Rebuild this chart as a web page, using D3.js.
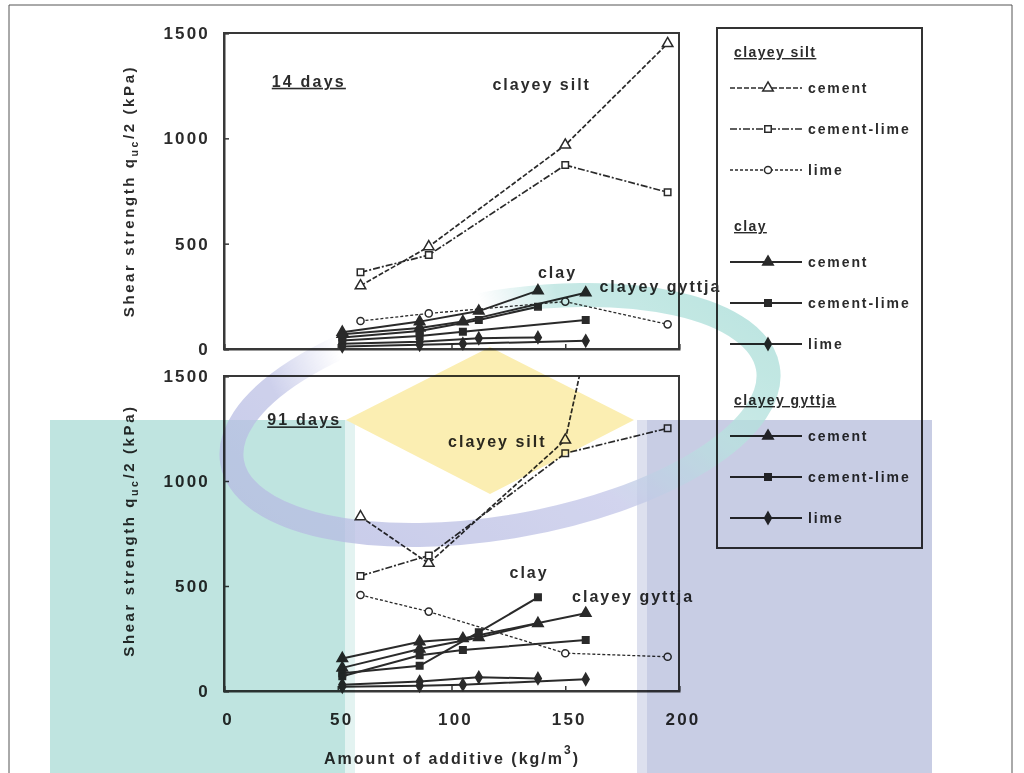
<!DOCTYPE html>
<html>
<head>
<meta charset="utf-8">
<script src="https://cdn.jsdelivr.net/npm/d3@7/dist/d3.min.js"></script>
<style>
  html, body { margin: 0; padding: 0; background: #fff; }
  svg { display: block; }
  text { font-family: "Liberation Sans", Arial, sans-serif; font-weight: bold; fill: #2b2b2b; }
</style>
</head>
<body>
<svg id="chart" width="1024" height="773"></svg>
<script>
// Amount of additive (kg/m3) used for each soil
const amountSilt = [60, 90, 150, 195];
const amountClay = [52, 86, 112, 138];
const amountGyttja = [52, 86, 105, 159];

// Shear strength qu/2 (kPa) after 14 days
const silt14Cement = [300, 486, 968, 1450];
const silt14CementLime = [364, 446, 873, 744];
const silt14Lime = [133, 169, 225, 117];
const clay14Cement = [80, 130, 180, 277];
const clay14CementLime = [55, 85, 138, 201];
const clay14Lime = [25, 35, 51, 55];
const gyttja14Cement = [70, 100, 130, 267];
const gyttja14CementLime = [40, 62, 82, 138];
const gyttja14Lime = [12, 20, 25, 39];

// Shear strength qu/2 (kPa) after 91 days
const silt91Cement = [830, 608, 1195, 3400];
const silt91CementLime = [548, 645, 1132, 1251];
const silt91Lime = [457, 378, 180, 163];
const clay91Cement = [110, 200, 255, 322];
const clay91CementLime = [85, 120, 280, 446];
const clay91Lime = [30, 45, 65, 60];
const gyttja91Cement = [155, 235, 250, 370];
const gyttja91CementLime = [70, 170, 195, 243];
const gyttja91Lime = [20, 25, 30, 56];

const xTicks = [0, 50, 100, 150, 200];
const yTicks = [0, 500, 1000, 1500];
const soilNames = ["clayey silt", "clay", "clayey gyttja"];
const binderNames = ["cement", "cement-lime", "lime"];

const svg = d3.select("#chart");
const defs = svg.append("defs");
const ink = "#2a2a2a";

// page frame
svg.append("path").attr("d", "M9,780 V5 H1012 V780")
  .attr("fill", "none").attr("stroke", "#555").attr("stroke-width", 1);

const x = d3.scaleLinear().domain([0, 200]).range([224, 679]);

const panels = [
  { id: "p14", top: 33, bottom: 349, label: "14 days", titleShift: 0,
    labelAt: [21, 1245],
    soilLabels: [["clayey silt", 118, 1230], ["clay", 138, 337], ["clayey gyttja", 165, 270]],
    series: {
      silt: [silt14Cement, silt14CementLime, silt14Lime],
      clay: [clay14Cement, clay14CementLime, clay14Lime],
      gyttja: [gyttja14Cement, gyttja14CementLime, gyttja14Lime] } },
  { id: "p91", top: 376, bottom: 691, label: "91 days", titleShift: -3,
    labelAt: [19, 1265],
    soilLabels: [["clayey silt", 98.5, 1162], ["clay", 125.5, 538], ["clayey gyttja", 153, 424]],
    series: {
      silt: [silt91Cement, silt91CementLime, silt91Lime],
      clay: [clay91Cement, clay91CementLime, clay91Lime],
      gyttja: [gyttja91Cement, gyttja91CementLime, gyttja91Lime] } }
];

// styles per binder
const siltDash = ["5,2", "7,2,2,2", "3,2"];
const siltWidth = [1.7, 1.7, 1.3];
const symbolTypes = [d3.symbolTriangle, d3.symbolSquare, d3.symbolDiamond];
const siltSymbols = [d3.symbolTriangle, d3.symbolSquare, d3.symbolCircle];
const symbolSizes = [48, 42, 40];

function drawMarker(g, type, size, open, px, py) {
  g.append("path")
    .attr("d", d3.symbol().type(type).size(size)())
    .attr("transform", `translate(${px},${py})`)
    .attr("fill", open ? "#fff" : ink)
    .attr("stroke", ink).attr("stroke-width", 1.5);
}

panels.forEach(p => {
  const y = d3.scaleLinear().domain([0, 1500]).range([p.bottom, p.top]);
  const g = svg.append("g");

  defs.append("clipPath").attr("id", "clip-" + p.id)
    .append("rect").attr("x", x(0)).attr("y", y(1500))
    .attr("width", x(200) - x(0)).attr("height", y(0) - y(1500));

  // frame
  g.append("rect").attr("x", x(0)).attr("y", y(1500))
    .attr("width", x(200) - x(0)).attr("height", y(0) - y(1500))
    .attr("fill", "none").attr("stroke", "#383838").attr("stroke-width", 2);

  // y axis (inward ticks)
  const ya = g.append("g").attr("transform", `translate(${x(0)},0)`)
    .call(d3.axisLeft(y).tickValues(yTicks).tickSize(-5).tickPadding(14).tickFormat(d3.format("d")));
  ya.select(".domain").attr("stroke", "#383838").attr("stroke-width", 2);
  ya.selectAll(".tick line").attr("stroke", "#383838").attr("stroke-width", 1.5);
  ya.selectAll(".tick text").attr("font-size", 17).attr("letter-spacing", 2.2)
    .attr("font-family", "Liberation Sans, Arial, sans-serif").attr("font-weight", "bold")
    .attr("fill", "#222");

  // x axis ticks (inward)
  const xa = g.append("g").attr("transform", `translate(0,${y(0)})`)
    .call(d3.axisBottom(x).tickValues(xTicks).tickSize(-5).tickFormat(""));
  xa.select(".domain").attr("stroke", "#383838").attr("stroke-width", 2);
  xa.selectAll(".tick line").attr("stroke", "#383838").attr("stroke-width", 1.5);

  // y axis title
  const ty = g.append("text")
    .attr("transform", `translate(134,${(p.top + p.bottom) / 2 + p.titleShift}) rotate(-90)`)
    .attr("text-anchor", "middle").attr("font-size", 15).attr("letter-spacing", 2.6);
  ty.append("tspan").text("Shear strength q");
  ty.append("tspan").attr("font-size", 10.5).attr("dy", 4).text("uc");
  ty.append("tspan").attr("dy", -4).text("/2 (kPa)");

  const plot = g.append("g").attr("clip-path", `url(#clip-${p.id})`);
  const marks = g.append("g");
  const line = d3.line().x(d => x(d[0])).y(d => y(d[1]));

  // clayey silt: dashed with open markers
  p.series.silt.forEach((vals, i) => {
    const pts = amountSilt.map((a, k) => [a, vals[k]]);
    plot.append("path").attr("d", line(pts)).attr("fill", "none")
      .attr("stroke", ink).attr("stroke-width", siltWidth[i]).attr("stroke-dasharray", siltDash[i]);
    pts.filter(d => d[1] <= 1500).forEach(d =>
      drawMarker(marks, siltSymbols[i], symbolSizes[i], true, x(d[0]), y(d[1])));
  });

  // clay and clayey gyttja: solid with filled markers
  [[p.series.clay, amountClay], [p.series.gyttja, amountGyttja]].forEach(([set, amt]) => {
    set.forEach((vals, i) => {
      const pts = amt.map((a, k) => [a, vals[k]]);
      plot.append("path").attr("d", line(pts)).attr("fill", "none")
        .attr("stroke", ink).attr("stroke-width", 2);
      pts.forEach(d => drawMarker(marks, symbolTypes[i], symbolSizes[i], false, x(d[0]), y(d[1])));
    });
  });

  // panel label (underlined)
  g.append("text").attr("x", x(p.labelAt[0])).attr("y", y(p.labelAt[1]))
    .attr("font-size", 16).attr("letter-spacing", 2.2).attr("text-decoration", "underline")
    .text(p.label);

  // soil labels
  p.soilLabels.forEach(([t, a, v]) => {
    g.append("text").attr("x", x(a)).attr("y", y(v))
      .attr("font-size", 16).attr("letter-spacing", 2).text(t);
  });
});

// x axis labels and title
const yb = 691;
svg.append("g").selectAll("text").data(xTicks).join("text")
  .attr("x", d => x(d) + 4).attr("y", yb + 34).attr("text-anchor", "middle")
  .attr("font-size", 17).attr("letter-spacing", 2.2).attr("fill", "#222")
  .text(d => d);
const xt = svg.append("text").attr("x", 452).attr("y", 764).attr("text-anchor", "middle")
  .attr("font-size", 16).attr("letter-spacing", 2);
xt.append("tspan").text("Amount of additive (kg/m");
xt.append("tspan").attr("font-size", 12).attr("dy", -10).text("3");
xt.append("tspan").attr("dy", 10).text(")");

// legend
const lg = svg.append("g");
lg.append("rect").attr("x", 717).attr("y", 28).attr("width", 205).attr("height", 520)
  .attr("fill", "none").attr("stroke", "#333").attr("stroke-width", 2);
const groupTop = [52, 226, 400];
const itemOffsets = [36, 77, 118];
soilNames.forEach((s, si) => {
  lg.append("text").attr("x", 734).attr("y", groupTop[si] + 5)
    .attr("font-size", 14).attr("letter-spacing", 1.4).attr("text-decoration", "underline").text(s);
  binderNames.forEach((b, bi) => {
    const cy = groupTop[si] + itemOffsets[bi];
    lg.append("line").attr("x1", 730).attr("x2", 802).attr("y1", cy).attr("y2", cy)
      .attr("stroke", ink).attr("stroke-width", si === 0 ? siltWidth[bi] : 2)
      .attr("stroke-dasharray", si === 0 ? siltDash[bi] : null);
    drawMarker(lg, si === 0 ? siltSymbols[bi] : symbolTypes[bi], symbolSizes[bi], si === 0, 768, cy);
    lg.append("text").attr("x", 808).attr("y", cy + 5)
      .attr("font-size", 14).attr("letter-spacing", 1.9).text(b);
  });
});

// background emblem laid over the figure
const wm = svg.append("g").style("mix-blend-mode", "multiply");
const grad = defs.append("linearGradient").attr("id", "ringGrad")
  .attr("x1", "0").attr("y1", "0.7").attr("x2", "1").attr("y2", "0.3");
grad.append("stop").attr("offset", "0").attr("stop-color", "#b6bbe2");
grad.append("stop").attr("offset", "0.5").attr("stop-color", "#c3c6e8");
grad.append("stop").attr("offset", "0.75").attr("stop-color", "#b8e3df");
grad.append("stop").attr("offset", "1").attr("stop-color", "#a8ddd7");

// fade the upper-left stretch of the ring
const fade = defs.append("radialGradient").attr("id", "ringFade")
  .attr("gradientUnits", "userSpaceOnUse").attr("cx", 410).attr("cy", 328).attr("r", 150);
fade.append("stop").attr("offset", "0").attr("stop-color", "#000");
fade.append("stop").attr("offset", "0.5").attr("stop-color", "#000");
fade.append("stop").attr("offset", "1").attr("stop-color", "#fff");
defs.append("mask").attr("id", "ringMask").attr("maskUnits", "userSpaceOnUse")
  .attr("x", 0).attr("y", 0).attr("width", 1024).attr("height", 773)
  .append("rect").attr("width", 1024).attr("height", 773).attr("fill", "url(#ringFade)");

wm.append("rect").attr("x", 50).attr("y", 420).attr("width", 295).attr("height", 360)
  .attr("fill", "#bfe4e0");
wm.append("rect").attr("x", 345).attr("y", 420).attr("width", 10).attr("height", 360)
  .attr("fill", "#e3f3f1");
wm.append("rect").attr("x", 637).attr("y", 420).attr("width", 295).attr("height", 360)
  .attr("fill", "#c8cde4");
wm.append("rect").attr("x", 637).attr("y", 420).attr("width", 10).attr("height", 360)
  .attr("fill", "#dde0ee");
wm.append("polygon").attr("points", "346,420 490,347 634,420 490,494")
  .attr("fill", "#fbeeb2");
wm.append("g").attr("mask", "url(#ringMask)").attr("opacity", 0.75)
  .append("ellipse").attr("cx", 0).attr("cy", 0).attr("rx", 272).attr("ry", 112)
  .attr("transform", "translate(500,415) rotate(-10)")
  .attr("fill", "none").attr("stroke", "url(#ringGrad)").attr("stroke-width", 24);
</script>
</body>
</html>
